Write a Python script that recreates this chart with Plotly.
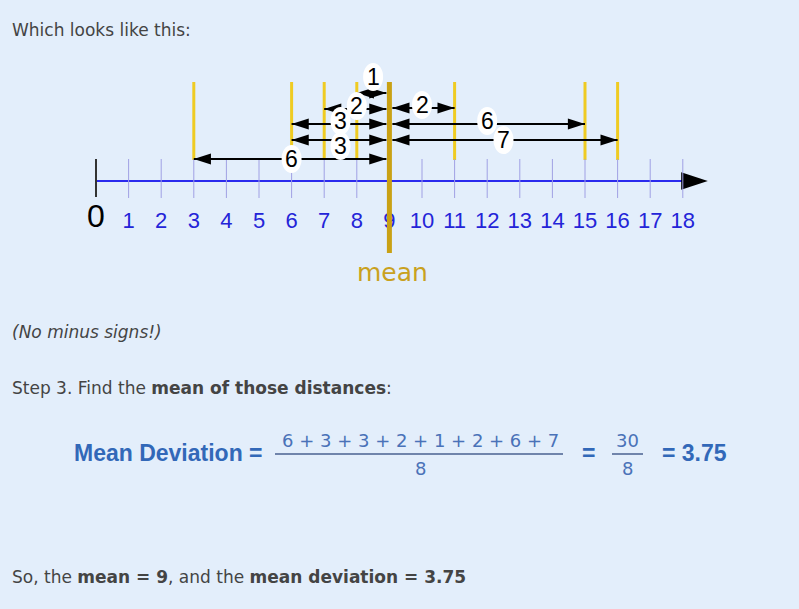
import plotly.graph_objects as go

# the data set, its mean and the distance of each value from the mean
values = [3, 6, 6, 7, 8, 11, 15, 16]
distances = [6, 3, 3, 2, 1, 2, 6, 7]
mean = 9
tick_values = list(range(0, 19))

# where each distance arrow sits (pixel rows from the top) and its label
arrow_rows = [159, 124, 140, 109, 93, 108, 124, 140]
label_rows = [159, 121, 146, 106, 77, 105, 121, 140]

W, H = 799, 609
BG = "#E3EEFB"
X0_PX, UNIT_PX = 96, 32.6          # where 0 sits, pixels per unit
AXIS_Y = 181


def px(x):
    return x / W


def py(y):
    return 1 - y / H


def d(pixels):
    # pixel distance along the number line -> data units
    return pixels / UNIT_PX


fig = go.Figure()

# number line
fig.add_trace(go.Scatter(x=[tick_values[0], tick_values[-1] + 0.5], y=[AXIS_Y, AXIS_Y],
                         mode="lines", line=dict(color="#2A2AEE", width=2),
                         hoverinfo="skip"))
fig.add_trace(go.Scatter(x=[tick_values[-1] + d(25)], y=[AXIS_Y], mode="markers",
                         marker=dict(symbol="arrow", angle=90, size=28, color="black"),
                         hoverinfo="skip"))

# tick marks
tx, ty = [], []
for t in tick_values[1:]:
    tx += [t, t, None]
    ty += [159, 198, None]
fig.add_trace(go.Scatter(x=tx, y=ty, mode="lines",
                         line=dict(color="#A0A0E4", width=1), hoverinfo="skip"))
fig.add_trace(go.Scatter(x=[0, 0], y=[159, 197], mode="lines",
                         line=dict(color="#333333", width=2), hoverinfo="skip"))

# tick labels
fig.add_trace(go.Scatter(
    x=tick_values, y=[222 if t else 219 for t in tick_values], mode="text",
    text=[str(t) for t in tick_values],
    textfont=dict(family="Liberation Sans Narrow, Liberation Sans, sans-serif",
                  size=[32 if t == 0 else 22 for t in tick_values],
                  color=["black" if t == 0 else "#2424D8" for t in tick_values]),
    hoverinfo="skip"))

# yellow marks at each value
for v in sorted(set(values)):
    fig.add_shape(type="line", x0=v, x1=v, y0=82, y1=160,
                  line=dict(color="#EFCB22", width=3), layer="below")

# distance arrows
sx, sy, hx, hy, ha = [], [], [], [], []
for v, r in zip(values, arrow_rows):
    end = mean - d(3) if v < mean else mean + d(3)
    sx += [v, end, None]
    sy += [r, r, None]
    hx += [v, end]
    hy += [r, r]
    if v < mean:
        ha += [270, 90]
    else:
        ha += [90, 270]
fig.add_trace(go.Scatter(x=sx, y=sy, mode="lines",
                         line=dict(color="black", width=2), hoverinfo="skip"))
fig.add_trace(go.Scatter(x=hx, y=hy, mode="markers",
                         marker=dict(symbol="arrow", angle=ha, size=18, color="black"),
                         hoverinfo="skip"))

# mean marker
fig.add_shape(type="line", x0=mean, x1=mean, y0=82, y1=253,
              line=dict(color="#C9A114", width=5), layer="above")
fig.add_annotation(x=mean + d(3), y=272, xref="x", yref="y", text="mean",
                   showarrow=False, xanchor="center", yanchor="middle",
                   font=dict(family="DejaVu Sans", size=25, color="#C9A11E"))

# distance labels on white ovals
for v, dist, lr in zip(values, distances, label_rows):
    mid = (v + mean) / 2
    fig.add_shape(type="circle", xref="x", yref="y", xsizemode="pixel",
                  ysizemode="pixel", xanchor=mid, yanchor=lr,
                  x0=-10, x1=10, y0=-14, y1=14,
                  fillcolor="white", line=dict(width=0), layer="above")
    fig.add_annotation(x=mid, y=lr, xref="x", yref="y", text=str(dist),
                       showarrow=False, xanchor="center", yanchor="middle",
                       font=dict(family="Liberation Sans", size=23, color="black"))

# page text
body = dict(family="DejaVu Sans", size=17, color="#444444")
texts = [
    (10, 30, "Which looks like this:"),
    (10, 332, "<i>(No minus signs!)</i>"),
    (10, 388, "Step 3. Find the <b>mean of those distances</b>:"),
]
n = len(distances)
total = sum(distances)
mean_dev = total / n
texts.append((10, 577, f"So, the <b>mean = {mean}</b>, and the "
                        f"<b>mean deviation = {mean_dev:g}</b>"))
for x, y, t in texts:
    fig.add_annotation(x=px(x), y=py(y), xref="paper", yref="paper", text=t,
                       showarrow=False, xanchor="left", yanchor="middle", font=body)

# the mean deviation formula
eq_bold = dict(family="Liberation Sans", size=23, color="#3268B8")
eq_num = dict(family="DejaVu Sans", size=18, color="#4A72B8")


def eq_text(x, y, t, font, anchor="center"):
    fig.add_annotation(x=px(x), y=py(y), xref="paper", yref="paper", text=t,
                       showarrow=False, xanchor=anchor, yanchor="middle", font=font)


eq_text(72, 453, "<b>Mean Deviation =</b>", eq_bold, "left")
eq_text(420, 440, " + ".join(str(v) for v in distances), eq_num)
fig.add_shape(type="line", xref="paper", yref="paper", x0=px(275), x1=px(563),
              y0=py(454), y1=py(454), line=dict(color="#4A6090", width=1.5))
eq_text(420, 469, str(n), eq_num)
eq_text(588, 453, "<b>=</b>", eq_bold)
eq_text(627, 440, str(total), eq_num)
fig.add_shape(type="line", xref="paper", yref="paper", x0=px(612), x1=px(643),
              y0=py(454), y1=py(454), line=dict(color="#4A6090", width=1.5))
eq_text(627, 469, str(n), eq_num)
eq_text(660, 453, f"<b>= {mean_dev:g}</b>", eq_bold, "left")

fig.update_layout(
    width=W, height=H, margin=dict(l=0, r=0, t=0, b=0),
    paper_bgcolor=BG, plot_bgcolor=BG, showlegend=False,
    xaxis=dict(range=[-X0_PX / UNIT_PX, (W - X0_PX) / UNIT_PX], visible=False,
               fixedrange=True),
    yaxis=dict(range=[H, 0], visible=False, fixedrange=True),
)

fig.write_html("out.html", config={"displayModeBar": False},
               post_script="document.body.style.margin='0';"
                           "document.body.style.overflow='hidden';")
